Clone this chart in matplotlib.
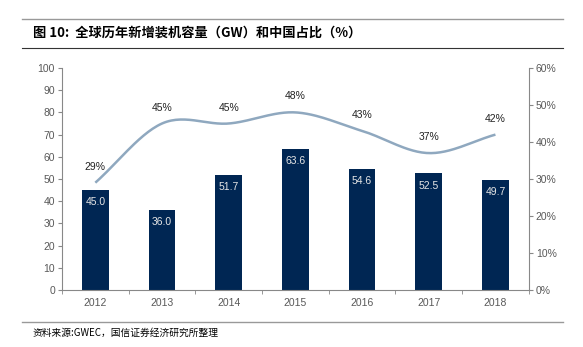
import numpy as np
import matplotlib.pyplot as plt
from matplotlib.lines import Line2D

plt.rcParams['font.family'] = ['Liberation Sans', 'Noto Sans CJK SC', 'DejaVu Sans']

years = ['2012', '2013', '2014', '2015', '2016', '2017', '2018']
capacity = [45.0, 36.0, 51.7, 63.6, 54.6, 52.5, 49.7]      # GW
china_share = [29, 45, 45, 48, 43, 37, 42]                 # %

navy = '#002653'
line_c = '#8fa8bf'
grey = '#595959'


def smooth(x, y, n=30):
    # Catmull-Rom curve through the points, like a smoothed office line
    x = np.asarray(x, float)
    y = np.asarray(y, float)
    px = np.concatenate([[2 * x[0] - x[1]], x, [2 * x[-1] - x[-2]]])
    py = np.concatenate([[2 * y[0] - y[1]], y, [2 * y[-1] - y[-2]]])
    xs, ys = [], []
    t = np.linspace(0, 1, n)
    for i in range(1, len(px) - 2):
        for p, out in ((px, xs), (py, ys)):
            p0, p1, p2, p3 = p[i - 1], p[i], p[i + 1], p[i + 2]
            out.extend(0.5 * (2 * p1 + (-p0 + p2) * t
                              + (2 * p0 - 5 * p1 + 4 * p2 - p3) * t ** 2
                              + (-p0 + 3 * p1 - 3 * p2 + p3) * t ** 3))
    return np.array(xs), np.array(ys)


fig = plt.figure(figsize=(5.83, 3.47), dpi=100)
ax = fig.add_axes([0.1063, 0.1643, 0.8007, 0.6397])
ax2 = ax.twinx()

x = np.arange(len(years))
ax.bar(x, capacity, width=0.4, color=navy, zorder=2)
for xi, v in zip(x, capacity):
    ax.text(xi, v - 5.5, f'{v:.1f}', ha='center', va='center',
            color='#e6e6e6', fontsize=7.5)

sx, sy = smooth(x, china_share)
ax2.plot(sx, sy, color=line_c, lw=1.8, solid_capstyle='butt')
for xi, v in zip(x, china_share):
    ax2.text(xi, v + 4.3, f'{v}%', ha='center', va='center',
             color='#222222', fontsize=7.5)

ax.set_xlim(-0.5, 6.5)
ax.set_ylim(0, 100)
ax.set_yticks(range(0, 101, 10))
ax2.set_ylim(0, 60)
ax2.set_yticks(range(0, 61, 10))
ax2.set_yticklabels([f'{v}%' for v in range(0, 61, 10)])

ax.set_xticks(x)
ax.set_xticklabels(years)
ax.set_xticks(np.arange(-0.5, 7, 1), minor=True)
ax.tick_params(axis='x', which='major', length=0, pad=6)
ax.tick_params(axis='x', which='minor', length=3, color='#888888')

for a in (ax, ax2):
    for s in a.spines.values():
        s.set_visible(False)
    a.tick_params(axis='y', length=3, color='#888888', labelsize=7.5,
                  labelcolor=grey, pad=2)
ax.tick_params(axis='x', labelsize=7.5, labelcolor=grey)
ax.spines['left'].set_visible(True)
ax.spines['left'].set_color('#888888')
ax.spines['bottom'].set_visible(True)
ax.spines['bottom'].set_color('#888888')
ax2.spines['right'].set_visible(True)
ax2.spines['right'].set_color('#888888')

# header and footer rules
fig.add_artist(Line2D([0.038, 0.966], [0.945, 0.945], color='#999999', lw=1))
fig.add_artist(Line2D([0.038, 0.966], [0.862, 0.862], color='#333333', lw=0.8))
fig.add_artist(Line2D([0.038, 0.966], [0.072, 0.072], color='#999999', lw=1))

fig.text(0.056, 0.905, '图 10:  全球历年新增装机容量（GW）和中国占比（%）',
         fontsize=9.5, fontweight='bold', va='center', ha='left',
         family=['Noto Sans CJK SC', 'DejaVu Sans'])
fig.text(0.056, 0.040, '资料来源:GWEC，国信证券经济研究所整理',
         fontsize=7, va='center', ha='left',
         family=['Noto Sans CJK SC', 'DejaVu Sans'])

fig.savefig('out.png', dpi=100)
